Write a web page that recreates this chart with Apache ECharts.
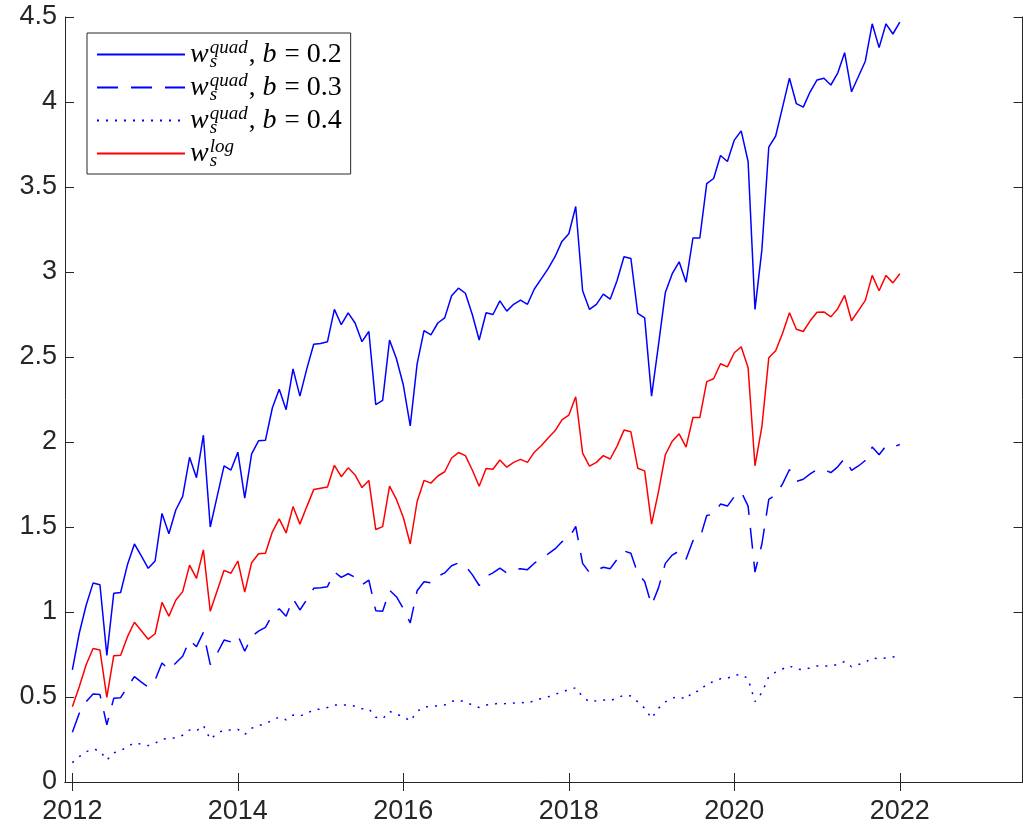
<!DOCTYPE html>
<html>
<head>
<meta charset="utf-8">
<script src="https://cdn.jsdelivr.net/npm/echarts@6/dist/echarts.min.js"></script>
<style>
html, body { margin: 0; padding: 0; background: #fff; }
#chart { width: 1024px; height: 830px; }
</style>
</head>
<body>
<div id="chart"></div>
<script>
// monthly observations, Jan 2012 .. Jan 2022
var startYear = 2012;
var yearTicks = [2012, 2014, 2016, 2018, 2020, 2022];

var quadB02 = [
  0.66, 0.875, 1.04, 1.17, 1.16, 0.745, 1.11, 1.115, 1.28, 1.40,
  1.33, 1.257, 1.30, 1.58, 1.46, 1.60, 1.68, 1.91, 1.79, 2.04,
  1.50, 1.68, 1.86, 1.835, 1.94, 1.67, 1.93, 2.007, 2.01, 2.20,
  2.31, 2.19, 2.43, 2.27, 2.43, 2.575, 2.58, 2.59, 2.78, 2.69,
  2.76, 2.70, 2.59, 2.65, 2.22, 2.245, 2.60, 2.49, 2.335, 2.095,
  2.46, 2.655, 2.63, 2.70, 2.73, 2.86, 2.905, 2.875, 2.75, 2.60,
  2.76, 2.75, 2.83, 2.77, 2.81, 2.835, 2.81, 2.90, 2.96, 3.02,
  3.09, 3.18, 3.225, 3.385, 2.89, 2.78, 2.81, 2.87, 2.84, 2.95,
  3.09, 3.08, 2.756, 2.73, 2.27, 2.57, 2.88, 2.99, 3.06, 2.94,
  3.20, 3.20, 3.52, 3.55, 3.685, 3.65, 3.776, 3.83, 3.65, 2.78,
  3.13, 3.735, 3.80, 3.97, 4.14, 3.99, 3.97, 4.06, 4.13, 4.14,
  4.10, 4.17, 4.29, 4.06, 4.15, 4.24, 4.46, 4.32, 4.46, 4.40,
  4.47
];

var quadB03 = [
  0.292, 0.404, 0.472, 0.518, 0.514, 0.337, 0.492, 0.496, 0.56, 0.62,
  0.588, 0.559, 0.60, 0.70, 0.66, 0.70, 0.74, 0.835, 0.796, 0.88,
  0.69, 0.757, 0.835, 0.824, 0.862, 0.769, 0.856, 0.888, 0.91, 0.982,
  1.019, 0.975, 1.078, 1.012, 1.073, 1.139, 1.143, 1.149, 1.236, 1.204,
  1.225, 1.204, 1.16, 1.187, 1.008, 1.004, 1.128, 1.09, 1.02, 0.936,
  1.125, 1.178, 1.171, 1.21, 1.23, 1.272, 1.289, 1.272, 1.22, 1.156,
  1.21, 1.23, 1.258, 1.23, 1.247, 1.255, 1.249, 1.287, 1.314, 1.342,
  1.371, 1.413, 1.432, 1.503, 1.286, 1.231, 1.246, 1.263, 1.255, 1.31,
  1.359, 1.346, 1.226, 1.179, 1.04, 1.142, 1.286, 1.335, 1.359, 1.31,
  1.419, 1.43, 1.568, 1.575, 1.635, 1.623, 1.679, 1.707, 1.623, 1.235,
  1.40, 1.662, 1.689, 1.754, 1.838, 1.768, 1.781, 1.812, 1.838, 1.838,
  1.82, 1.854, 1.904, 1.833, 1.859, 1.891, 1.97, 1.925, 1.978, 1.97,
  1.985
];

var quadB04 = [
  0.114, 0.149, 0.178, 0.194, 0.184, 0.129, 0.172, 0.184, 0.208, 0.231,
  0.222, 0.214, 0.228, 0.251, 0.257, 0.259, 0.275, 0.306, 0.30, 0.333,
  0.251, 0.286, 0.306, 0.306, 0.31, 0.279, 0.316, 0.333, 0.34, 0.366,
  0.381, 0.366, 0.394, 0.388, 0.403, 0.425, 0.429, 0.438, 0.453, 0.453,
  0.453, 0.446, 0.431, 0.431, 0.381, 0.372, 0.416, 0.398, 0.386, 0.358,
  0.415, 0.442, 0.442, 0.449, 0.453, 0.474, 0.482, 0.47, 0.453, 0.438,
  0.453, 0.457, 0.464, 0.459, 0.464, 0.468, 0.464, 0.478, 0.491, 0.501,
  0.516, 0.529, 0.544, 0.554, 0.502, 0.471, 0.478, 0.482, 0.478, 0.494,
  0.511, 0.506, 0.471, 0.434, 0.374, 0.434, 0.471, 0.494, 0.502, 0.487,
  0.531, 0.535, 0.578, 0.59, 0.607, 0.61, 0.628, 0.633, 0.607, 0.473,
  0.525, 0.62, 0.646, 0.665, 0.683, 0.665, 0.66, 0.672, 0.683, 0.683,
  0.683, 0.691, 0.709, 0.678, 0.691, 0.704, 0.73, 0.725, 0.73, 0.735,
  0.744
];

var logW = [
  0.443, 0.56, 0.69, 0.785, 0.776, 0.498, 0.743, 0.745, 0.855, 0.94,
  0.89, 0.84, 0.872, 1.057, 0.976, 1.069, 1.12, 1.276, 1.198, 1.365,
  1.004, 1.125, 1.245, 1.228, 1.30, 1.117, 1.29, 1.343, 1.345, 1.47,
  1.548, 1.465, 1.62, 1.517, 1.62, 1.72, 1.728, 1.735, 1.863, 1.796,
  1.848, 1.806, 1.732, 1.774, 1.485, 1.502, 1.74, 1.662, 1.556, 1.40,
  1.65, 1.774, 1.758, 1.80, 1.825, 1.906, 1.938, 1.92, 1.835, 1.74,
  1.844, 1.84, 1.894, 1.852, 1.88, 1.898, 1.88, 1.94, 1.978, 2.024,
  2.066, 2.13, 2.158, 2.266, 1.935, 1.858, 1.88, 1.92, 1.90, 1.976,
  2.07, 2.06, 1.846, 1.83, 1.517, 1.707, 1.925, 2.005, 2.048, 1.97,
  2.144, 2.144, 2.355, 2.372, 2.46, 2.442, 2.525, 2.56, 2.437, 1.86,
  2.09, 2.495, 2.537, 2.64, 2.76, 2.663, 2.65, 2.713, 2.763, 2.765,
  2.736, 2.784, 2.862, 2.713, 2.773, 2.833, 2.98, 2.89, 2.98, 2.936,
  2.99
];

var axisColor = '#262626';

function monthly(values) {
  return values.map(function (v, i) { return [startYear + i / 12, v]; });
}

// legend labels, LaTeX-ish via rich text
var legendText = {
  'quad b=0.2': '{w|w}{sub|s}{sup|quad}{c|,}{v|b}{n|=}{d|0.2}',
  'quad b=0.3': '{w|w}{sub|s}{sup|quad}{c|,}{v|b}{n|=}{d|0.3}',
  'quad b=0.4': '{w|w}{sub|s}{sup|quad}{c|,}{v|b}{n|=}{d|0.4}',
  'log': '{w|w}{sub|s}{sup|log}'
};

var chart = echarts.init(document.getElementById('chart'));

function lineSeries(name, values, color, dash) {
  return {
    name: name,
    type: 'line',
    data: monthly(values),
    showSymbol: false,
    symbol: 'none',
    color: color,
    lineStyle: { color: color, width: 1.5, type: dash },
    emphasis: { disabled: true }
  };
}

var xMin = 2011.911, xMax = 2023.483;
var serif = 'Liberation Serif';

chart.setOption({
  animation: false,
  grid: { left: 65, right: 1.5, top: 17, bottom: 48 },
  legend: {
    orient: 'vertical',
    left: 87,
    top: 33,
    padding: [5, 9, 4, 9],
    itemWidth: 88,
    itemHeight: 14,
    itemGap: 0,
    backgroundColor: '#fff',
    borderColor: axisColor,
    borderWidth: 1,
    borderRadius: 0,
    selectedMode: false,
    itemStyle: { opacity: 0 },
    formatter: function (name) { return legendText[name]; },
    textStyle: {
      color: '#000',
      rich: {
        w: { fontFamily: serif, fontStyle: 'italic', fontSize: 28, lineHeight: 28, padding: [0, 1, 0, 0] },
        sub: { fontFamily: serif, fontStyle: 'italic', fontSize: 19, lineHeight: 19, width: 0, padding: [14, 0, 0, 0] },
        sup: { fontFamily: serif, fontStyle: 'italic', fontSize: 19, lineHeight: 19, padding: [0, 1, 14, 0] },
        c: { fontFamily: serif, fontSize: 27, lineHeight: 28, padding: [0, 7, 0, 0] },
        n: { fontFamily: serif, fontSize: 27, lineHeight: 28, padding: [0, 7, 0, 0] },
        d: { fontFamily: serif, fontSize: 28, lineHeight: 28 },
        v: { fontFamily: serif, fontStyle: 'italic', fontSize: 28, lineHeight: 28, padding: [0, 8, 0, 0] }
      }
    },
    data: ['quad b=0.2', 'quad b=0.3', 'quad b=0.4', 'log']
  },
  xAxis: [{
    type: 'value',
    position: 'bottom',
    min: xMin,
    max: xMax,
    splitLine: { show: false },
    axisLine: { lineStyle: { color: axisColor, width: 1 } },
    axisTick: { inside: true, length: 9, customValues: yearTicks, lineStyle: { color: axisColor } },
    axisLabel: {
      customValues: yearTicks,
      color: axisColor,
      fontFamily: 'Liberation Sans',
      fontSize: 27,
      margin: 16,
      formatter: function (v) { return String(Math.round(v)); }
    }
  }, {
    type: 'value',
    position: 'top',
    min: xMin,
    max: xMax,
    splitLine: { show: false },
    axisLine: { lineStyle: { color: axisColor, width: 1 } },
    axisTick: { inside: true, length: 9, customValues: yearTicks, lineStyle: { color: axisColor } },
    axisLabel: { show: false }
  }],
  yAxis: [{
    type: 'value',
    position: 'left',
    min: 0,
    max: 4.5,
    interval: 0.5,
    splitLine: { show: false },
    axisLine: { show: true, lineStyle: { color: axisColor, width: 1 } },
    axisTick: { show: true, inside: true, length: 9, lineStyle: { color: axisColor } },
    axisLabel: { color: axisColor, fontFamily: 'Liberation Sans', fontSize: 27, margin: 8 }
  }, {
    type: 'value',
    position: 'right',
    min: 0,
    max: 4.5,
    interval: 0.5,
    splitLine: { show: false },
    axisLine: { show: true, lineStyle: { color: axisColor, width: 1 } },
    axisTick: { show: true, inside: true, length: 9, lineStyle: { color: axisColor } },
    axisLabel: { show: false }
  }],
  series: [
    lineSeries('quad b=0.2', quadB02, '#0000ff', 'solid'),
    lineSeries('quad b=0.3', quadB03, '#0000ff', [21, 13]),
    lineSeries('quad b=0.4', quadB04, '#0000ff', [2, 7]),
    lineSeries('log', logW, '#ff0000', 'solid')
  ]
});
</script>
</body>
</html>
